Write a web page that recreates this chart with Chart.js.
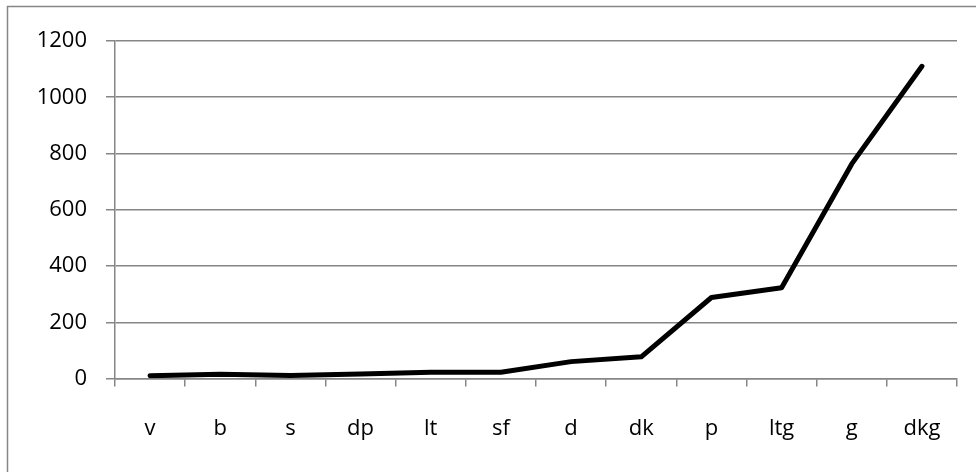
<!DOCTYPE html>
<html>
<head>
<meta charset="utf-8">
<script src="https://cdn.jsdelivr.net/npm/chart.js@4"></script>
<style>
  html, body { margin: 0; padding: 0; background: #fff; }
  #wrap { width: 976px; height: 472px; position: relative; }
</style>
</head>
<body>
<div id="wrap"><canvas id="c" width="976" height="472"></canvas></div>
<script>
const categories = ['v', 'b', 's', 'dp', 'lt', 'sf', 'd', 'dk', 'p', 'ltg', 'g', 'dkg'];
const seriesValues = [10, 15, 11, 16, 22, 22, 60, 77, 288, 323, 763, 1110];
const yTicks = [0, 200, 400, 600, 800, 1000, 1200];

const gray = '#868686';
const fontFamily = '"Open Sans", "Noto Sans", sans-serif';

// frame around the whole chart, drawn before everything else
const framePlugin = {
  id: 'frame',
  beforeDraw(chart) {
    const ctx = chart.ctx;
    ctx.save();
    ctx.fillStyle = '#fff';
    ctx.fillRect(0, 0, chart.width, chart.height);
    ctx.strokeStyle = gray;
    ctx.lineWidth = 1.5;
    ctx.strokeRect(7.5, 6.5, 1200, 1200);
    ctx.restore();
  }
};

new Chart(document.getElementById('c'), {
  type: 'line',
  data: {
    labels: categories,
    datasets: [{
      data: seriesValues,
      borderColor: '#000',
      borderWidth: 5,
      borderCapStyle: 'round',
      borderJoinStyle: 'round',
      pointRadius: 0,
      tension: 0,
      fill: false
    }]
  },
  options: {
    responsive: false,
    animation: false,
    devicePixelRatio: 1,
    layout: { padding: { left: 0, right: 19, top: 41, bottom: 0 } },
    plugins: { legend: { display: false }, tooltip: { enabled: false } },
    scales: {
      x: {
        offset: true,
        grid: {
          offset: true,
          drawOnChartArea: false,
          drawTicks: true,
          tickLength: 8,
          color: gray,
          lineWidth: 1.5
        },
        border: { color: gray, width: 1.5 },
        ticks: {
          color: '#000',
          padding: 29,
          font: { family: fontFamily, size: 22 },
          maxRotation: 0,
          autoSkip: false
        },
        afterFit(scale) { scale.height = 93.5; }
      },
      y: {
        min: 0,
        max: 1200,
        afterBuildTicks(scale) { scale.ticks = yTicks.map(v => ({ value: v })); },
        grid: {
          drawTicks: true,
          tickLength: 9,
          color: gray,
          lineWidth: 1.5
        },
        border: { color: gray, width: 1.5 },
        ticks: {
          color: '#000',
          padding: 19,
          font: { family: fontFamily, size: 22 },
          callback: v => String(v)
        },
        afterFit(scale) { scale.width = 115; }
      }
    }
  },
  plugins: [framePlugin]
});
</script>
</body>
</html>
